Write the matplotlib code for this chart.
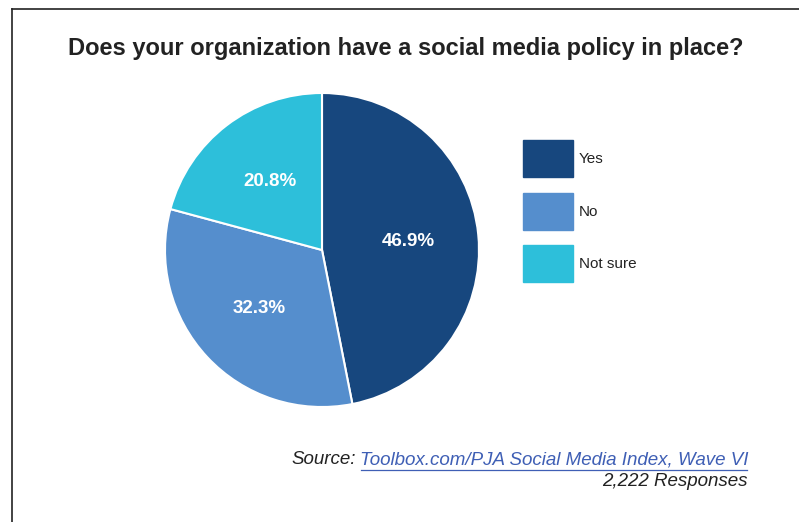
import matplotlib.pyplot as plt
from matplotlib.lines import Line2D

plt.rcParams['font.family'] = ['Liberation Sans', 'DejaVu Sans']

# Data
labels = ['Yes', 'No', 'Not sure']
shares = [46.9, 32.3, 20.8]
colors = ['#17477e', '#558ecd', '#2dbfda']

W, H = 799, 522
fig = plt.figure(figsize=(W / 100, H / 100), dpi=100)

# frame lines (top and left only visible)
fig.add_artist(Line2D([12 / W, 1], [1 - 9 / H, 1 - 9 / H], color='#222222', lw=1.2))
fig.add_artist(Line2D([12 / W, 12 / W], [0, 1 - 9 / H], color='#222222', lw=1.2))

fig.text(406 / W, 1 - 48 / H, 'Does your organization have a social media policy in place?',
         ha='center', va='center', fontsize=17, fontweight='bold', color='#222222')

# pie
cx, cy, r = 322, 250, 157
ax = fig.add_axes([(cx - r) / W, (H - cy - r) / H, 2 * r / W, 2 * r / H])
wedges, texts, autotexts = ax.pie(
    shares, colors=colors, startangle=90, counterclock=False,
    autopct='%.1f%%', pctdistance=0.55,
    wedgeprops=dict(edgecolor='white', linewidth=1.5),
    textprops=dict(color='white', fontsize=13.5, fontweight='bold'))
ax.set_xlim(-1, 1)
ax.set_ylim(-1, 1)
ax.axis('off')

# legend
lax = fig.add_axes([0, 0, 1, 1])
lax.set_xlim(0, W)
lax.set_ylim(H, 0)
lax.axis('off')
for i, (lab, col) in enumerate(zip(labels, colors)):
    y0 = 140 + i * 52.5
    lax.add_patch(plt.Rectangle((523, y0), 50, 37, color=col))
    lax.text(579, y0 + 19, lab, ha='left', va='center', fontsize=11, color='#222222')

# source
link = 'Toolbox.com/PJA Social Media Index, Wave VI'
t_link = lax.text(748, 460, link, ha='right', va='center', fontsize=13.5,
                  style='italic', color='#3f5fb5')
fig.canvas.draw()
bb = t_link.get_window_extent()
lax.plot([bb.x0 + 1, bb.x1 - 1], [470, 470], color='#3f5fb5', lw=0.9)
lax.text(bb.x0 - 4, 460, 'Source:', ha='right', va='center', fontsize=13.5,
         style='italic', color='#222222')
lax.text(748, 482, '2,222 Responses', ha='right', va='center', fontsize=13.5,
         style='italic', color='#222222')

fig.savefig('out.png', dpi=100)
